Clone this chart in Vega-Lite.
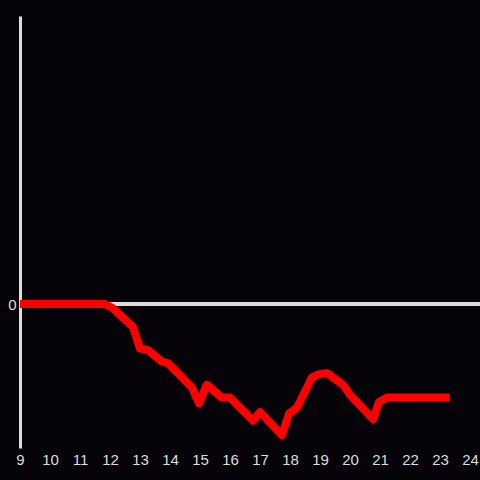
{
  "$schema": "https://vega.github.io/schema/vega-lite/v6.json",
  "width": 460,
  "height": 432,
  "autosize": {"type": "none"},
  "padding": {"left": 20, "top": 16, "right": 0, "bottom": 32},
  "background": "#050307",
  "config": {"view": {"stroke": null}},
  "data": {"values": [
    {"x": 9, "y": 0}, {"x": 11.83, "y": 0}, {"x": 12.1, "y": -0.03}, {"x": 12.77, "y": -0.16},
    {"x": 13.0, "y": -0.31}, {"x": 13.27, "y": -0.32}, {"x": 13.73, "y": -0.40}, {"x": 13.93, "y": -0.41},
    {"x": 14.73, "y": -0.58}, {"x": 14.97, "y": -0.69}, {"x": 15.23, "y": -0.56}, {"x": 15.73, "y": -0.65},
    {"x": 16.0, "y": -0.65}, {"x": 16.77, "y": -0.81}, {"x": 17.0, "y": -0.75}, {"x": 17.73, "y": -0.91},
    {"x": 17.97, "y": -0.76}, {"x": 18.23, "y": -0.72}, {"x": 18.73, "y": -0.51}, {"x": 18.93, "y": -0.49},
    {"x": 19.23, "y": -0.48}, {"x": 19.77, "y": -0.56}, {"x": 20.0, "y": -0.63}, {"x": 20.77, "y": -0.80},
    {"x": 20.97, "y": -0.68}, {"x": 21.23, "y": -0.65}, {"x": 23.33, "y": -0.65}
  ]},
  "layer": [
    {
      "mark": {"type": "rule", "color": "#dddddd", "strokeWidth": 3},
      "encoding": {"y": {"datum": 0, "type": "quantitative", "scale": {"domain": [-1, 2], "nice": false}}}
    },
    {
      "mark": {"type": "line", "color": "#ff0000", "strokeWidth": 8, "strokeJoin": "round", "clip": false},
      "encoding": {
        "x": {"field": "x", "type": "quantitative", "scale": {"domain": [9, 24.333], "nice": false, "zero": false},
          "axis": {"values": [9,10,11,12,13,14,15,16,17,18,19,20,21,22,23,24], "format": "d", "title": null, "domain": false, "ticks": false, "grid": false,
            "labelColor": "#dddddd", "labelFont": "Liberation Sans", "labelFontSize": 15, "labelPadding": 4, "labelFlush": false, "labelOverlap": false}},
        "y": {"field": "y", "type": "quantitative", "scale": {"domain": [-1, 2], "nice": false},
          "axis": {"values": [0], "format": "d", "title": null, "domain": true, "domainColor": "#dddddd", "domainWidth": 3, "ticks": false, "grid": false,
            "labelColor": "#dddddd", "labelFont": "Liberation Sans", "labelFontSize": 15, "labelPadding": 4}}
      }
    }
  ]
}
